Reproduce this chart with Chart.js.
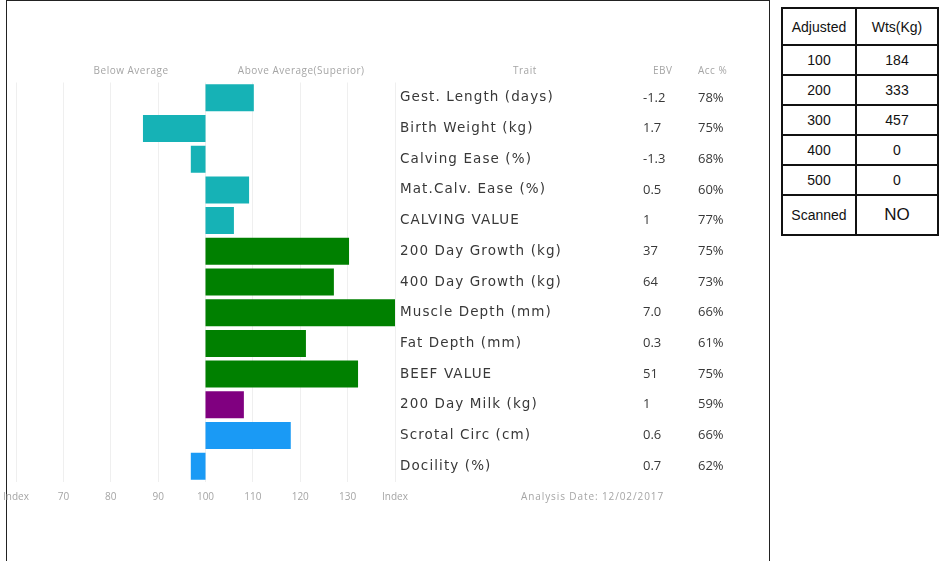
<!DOCTYPE html>
<html>
<head>
<meta charset="utf-8">
<script src="https://cdn.jsdelivr.net/npm/chart.js@4.4.1/dist/chart.umd.min.js"></script>
<style>
  html, body { margin: 0; padding: 0; background: #fff; }
  #frame { position: absolute; left: 6px; top: 0; width: 764px; height: 600px; border: 1px solid #222; box-sizing: border-box; }
  #wrap { position: absolute; left: 0; top: 0; width: 770px; height: 561px; }
  #wts { position: absolute; left: 781px; top: 7px; border-collapse: collapse; font-family: "Liberation Sans", Arial, sans-serif; font-size: 14px; color: #111; }
  #wts td { border: 2px solid #111; text-align: center; padding: 0; height: 28px; }
  #wts tr.head td { height: 35px; }
  #wts tr.last td { height: 38px; }
  #wts td.big { font-size: 17px; }
</style>
</head>
<body>
<div id="frame"></div>
<div id="wrap"><canvas id="ebvChart" width="770" height="561"></canvas></div>

<table id="wts">
  <tr class="head"><td style="width:72px">Adjusted</td><td style="width:80px">Wts(Kg)</td></tr>
  <tr><td>100</td><td>184</td></tr>
  <tr><td>200</td><td>333</td></tr>
  <tr><td>300</td><td>457</td></tr>
  <tr><td>400</td><td>0</td></tr>
  <tr><td>500</td><td>0</td></tr>
  <tr class="last"><td>Scanned</td><td class="big">NO</td></tr>
</table>

<script>
// trait rows, top to bottom
const traits = [
  'Gest. Length (days)', 'Birth Weight (kg)', 'Calving Ease (%)', 'Mat.Calv. Ease (%)',
  'CALVING VALUE', '200 Day Growth (kg)', '400 Day Growth (kg)', 'Muscle Depth (mm)',
  'Fat Depth (mm)', 'BEEF VALUE', '200 Day Milk (kg)', 'Scrotal Circ (cm)', 'Docility (%)'
];
const ebv = ['-1.2', '1.7', '-1.3', '0.5', '1', '37', '64', '7.0', '0.3', '51', '1', '0.6', '0.7'];
const accuracy = [78, 75, 68, 60, 77, 75, 73, 66, 61, 75, 59, 66, 62];
// index value for each trait (100 = breed average)
const indexValues = [110.2, 86.8, 96.9, 109.2, 106, 130.3, 127.1, 140, 121.2, 132.2, 108.1, 118, 96.9];
const traitGroups = ['calving', 'calving', 'calving', 'calving', 'calving',
  'growth', 'growth', 'growth', 'growth', 'growth', 'milk', 'fertility', 'fertility'];
const indexTicks = [60, 70, 80, 90, 100, 110, 120, 130, 140];
const analysisDate = '12/02/2017';

const groupColors = { calving: '#16b2b6', growth: '#008000', milk: '#800080', fertility: '#1a9af5' };

Chart.defaults.font.family = '"Open Sans", sans-serif';

// trait names, EBV / Acc columns and headers
const extraText = {
  id: 'extraText',
  afterDraw(chart) {
    const ctx = chart.ctx;
    const x = chart.scales.x, y = chart.scales.y;
    ctx.save();
    ctx.textBaseline = 'middle';
    ctx.textAlign = 'left';
    ctx.fillStyle = '#383838';
    traits.forEach((t, i) => {
      let py = y.getPixelForValue(i);
      ctx.font = '13.5px "DejaVu Sans"';
      ctx.letterSpacing = '1.1px';
      ctx.fillText(t, 400, py);
      ctx.font = '13px "Open Sans"';
      ctx.letterSpacing = '0px';
      ctx.fillText(ebv[i], 643, py);
      ctx.fillText(accuracy[i] + '%', 698, py);
    });

    ctx.font = '10px "Open Sans"';
    ctx.letterSpacing = '0.5px';
    ctx.fillStyle = '#a5a5a5';
    ctx.textAlign = 'center';
    ctx.fillText('Below Average', x.getPixelForValue(84.3), 71);
    ctx.fillText('Above Average(Superior)', x.getPixelForValue(120.2), 71);
    ctx.textAlign = 'left';
    ctx.fillText('Trait', 513, 71);
    ctx.fillText('EBV', 653, 71);
    ctx.fillText('Acc %', 698, 71);
    ctx.letterSpacing = '0.9px';
    ctx.fillText('Analysis Date: ' + analysisDate, 521, 497);
    ctx.restore();
  }
};

new Chart(document.getElementById('ebvChart'), {
  type: 'bar',
  data: {
    labels: traits,
    datasets: [{
      data: indexValues.map(v => [100, v]),
      backgroundColor: traitGroups.map(g => groupColors[g]),
      barPercentage: 0.88,
      categoryPercentage: 1
    }]
  },
  options: {
    indexAxis: 'y',
    responsive: false,
    animation: false,
    devicePixelRatio: 1,
    layout: { padding: { top: 82.5, bottom: 54.5, left: 16, right: 8 } },
    plugins: { legend: { display: false }, tooltip: { enabled: false } },
    scales: {
      x: {
        min: 60,
        max: 140,
        afterBuildTicks(scale) { scale.ticks = indexTicks.map(v => ({ value: v })); },
        afterFit(scale) {
          scale.height = 25;
          scale.paddingLeft = 0;
          scale.paddingRight = 0;
        },
        border: { display: false },
        grid: { color: '#efefef', drawTicks: false },
        ticks: {
          padding: 10,
          color: '#a5a5a5',
          font: { size: 10 },
          maxRotation: 0,
          callback: (v) => (v === 60 || v === 140) ? 'Index' : v
        }
      },
      y: {
        position: 'right',
        afterFit(scale) { scale.width = 367; },
        border: { display: false },
        grid: { display: false, drawTicks: false },
        ticks: { display: false, autoSkip: false }
      }
    }
  },
  plugins: [extraText]
});
</script>
</body>
</html>
